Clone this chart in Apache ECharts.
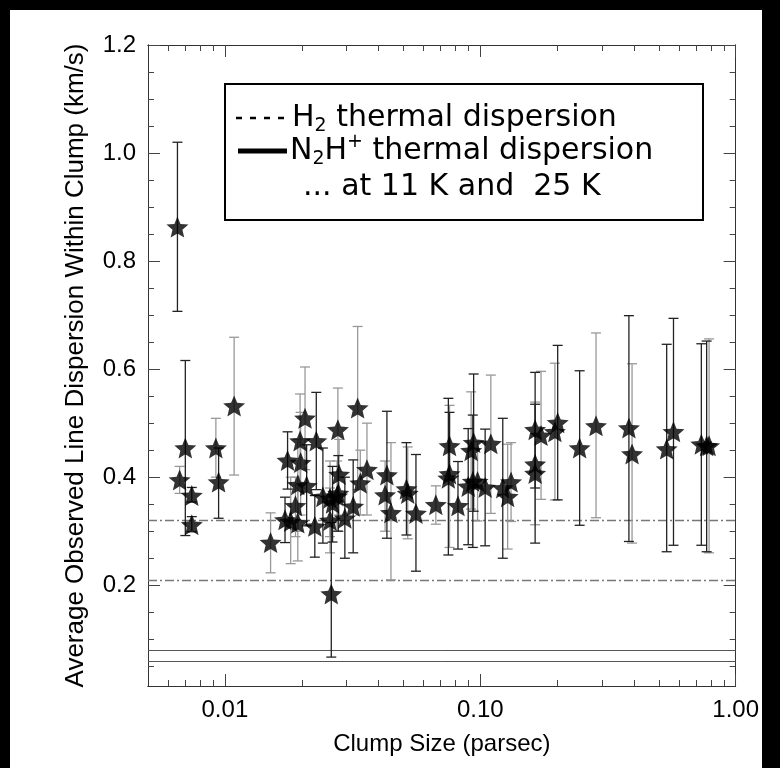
<!DOCTYPE html>
<html>
<head>
<meta charset="utf-8">
<script src="https://cdn.jsdelivr.net/npm/echarts@6/dist/echarts.min.js"></script>
<style>
html,body{margin:0;padding:0;background:#000;width:780px;height:768px;overflow:hidden;}
#main{position:absolute;left:10px;top:10px;width:752px;height:758px;background:#fff;}
</style>
</head>
<body>
<div id="main"></div>
<script>
// clump size (pc), mean dispersion (km/s), error bar low / high -- black bars
var blackSize = [0.00652,0.0070,0.00742,0.00742,0.00945,0.0176,0.0172,0.0209,0.0228,0.0225,0.0242,0.0264,0.0261,0.0278,0.0295,0.0318,0.0431,0.0514,0.0560,0.0758,0.0750,0.0818,0.0897,0.0942,0.0935,0.1045,0.1225,0.164,0.164,0.201,0.245,0.382,0.537,0.571,0.734,0.770];
var blackDisp = [0.863,0.454,0.366,0.312,0.391,0.431,0.321,0.384,0.467,0.309,0.364,0.352,0.184,0.370,0.324,0.346,0.404,0.378,0.333,0.458,0.398,0.347,0.383,0.464,0.392,0.381,0.380,0.488,0.407,0.501,0.454,0.491,0.452,0.484,0.461,0.458];
var blackLow  = [0.707,0.292,0.354,0.299,0.324,0.378,0.279,0.310,0.377,0.252,0.278,0.280,0.067,0.300,0.250,0.260,0.287,0.293,0.226,0.395,0.256,0.267,0.275,0.337,0.270,0.273,0.250,0.380,0.278,0.358,0.311,0.281,0.262,0.274,0.274,0.262];
var blackHigh = [1.020,0.616,0.381,0.327,0.454,0.484,0.363,0.460,0.557,0.366,0.454,0.420,0.316,0.440,0.400,0.432,0.522,0.464,0.442,0.520,0.546,0.429,0.490,0.591,0.515,0.489,0.509,0.594,0.535,0.644,0.597,0.699,0.646,0.694,0.647,0.652];

// grey bars
var greySize = [0.00665,0.00922,0.01087,0.0151,0.0181,0.0189,0.0193,0.0193,0.0198,0.0197,0.0206,0.0258,0.0275,0.0258,0.0280,0.0277,0.0339,0.0360,0.0331,0.0424,0.0447,0.0520,0.0670,0.0758,0.0921,0.0976,0.110,0.128,0.132,0.164,0.173,0.196,0.284,0.393,0.787];
var greyDisp = [0.395,0.454,0.532,0.279,0.318,0.347,0.315,0.386,0.427,0.467,0.509,0.361,0.365,0.320,0.405,0.488,0.389,0.414,0.528,0.367,0.334,0.370,0.349,0.406,0.449,0.392,0.462,0.364,0.391,0.424,0.477,0.484,0.495,0.443,0.458];
var greyLow  = [0.370,0.400,0.404,0.223,0.240,0.290,0.245,0.300,0.330,0.380,0.414,0.290,0.300,0.260,0.330,0.410,0.330,0.330,0.377,0.300,0.210,0.286,0.313,0.270,0.341,0.319,0.333,0.267,0.318,0.312,0.359,0.358,0.325,0.278,0.260];
var greyHigh = [0.420,0.509,0.659,0.334,0.400,0.400,0.385,0.470,0.520,0.554,0.604,0.430,0.430,0.380,0.470,0.565,0.450,0.500,0.679,0.430,0.464,0.456,0.384,0.533,0.558,0.466,0.589,0.461,0.464,0.539,0.596,0.611,0.667,0.610,0.656];

// thermal dispersion at 11 K and 25 K
var h2Thermal = [0.213, 0.321];
var n2hThermal = [0.0561, 0.0846];

var xMajor = [0.01, 0.1, 1];
var xMinor = [0.006,0.007,0.008,0.009,0.02,0.03,0.04,0.05,0.06,0.07,0.08,0.09,0.2,0.3,0.4,0.5,0.6,0.7,0.8,0.9];
var yMajor = [0.2, 0.4, 0.6, 0.8, 1.0, 1.2];
var yMinor = [0.05,0.1,0.15,0.25,0.3,0.35,0.45,0.5,0.55,0.65,0.7,0.75,0.85,0.9,0.95,1.05,1.1,1.15];

function rows(s, d, lo, hi) {
	var out = [];
	for (var i = 0; i < s.length; i++) out.push([s[i], lo[i], hi[i], d[i]]);
	return out;
}

// 5 point star
function starPath() {
	var pts = [];
	for (var i = 0; i < 10; i++) {
		var r = i % 2 ? 0.45 : 1;
		var a = -Math.PI / 2 + i * Math.PI / 5;
		pts.push((r * Math.cos(a)).toFixed(3) + ' ' + (r * Math.sin(a)).toFixed(3));
	}
	return 'path://M' + pts.join(' L') + ' Z';
}

function errorBar(params, api) {
	var x = api.value(0);
	var pLo = api.coord([x, api.value(1)]);
	var pHi = api.coord([x, api.value(2)]);
	var c = 5;
	var st = { stroke: api.visual('color'), lineWidth: 1.3 };
	return {
		type: 'group',
		children: [
			{ type: 'line', shape: { x1: pLo[0], y1: pLo[1], x2: pHi[0], y2: pHi[1] }, style: st },
			{ type: 'line', shape: { x1: pLo[0] - c, y1: pLo[1], x2: pLo[0] + c, y2: pLo[1] }, style: st },
			{ type: 'line', shape: { x1: pHi[0] - c, y1: pHi[1], x2: pHi[0] + c, y2: pHi[1] }, style: st }
		]
	};
}

var tickFont = { fontFamily: 'Liberation Sans', fontSize: 24, color: '#000' };

function xAx(pos, ticks, len, labels) {
	return {
		type: 'log', logBase: 10, min: 0.005, max: 1, position: pos,
		axisLine: { show: true, onZero: false, lineStyle: { color: '#333', width: 1 } },
		axisTick: { show: true, inside: true, length: len, customValues: ticks, lineStyle: { color: '#444', width: 1 } },
		axisLabel: labels ? Object.assign({ show: true, margin: 12, customValues: ticks, formatter: function(v) { return v.toFixed(2); } }, tickFont) : { show: false },
		splitLine: { show: false }, minorTick: { show: false }
	};
}
function yAx(pos, ticks, len, labels) {
	return {
		type: 'value', min: 0.0135, max: 1.2, position: pos,
		axisLine: { show: true, onZero: false, lineStyle: { color: '#333', width: 1 } },
		axisTick: { show: true, inside: true, length: len, customValues: ticks, lineStyle: { color: '#444', width: 1 } },
		axisLabel: labels ? Object.assign({ show: true, margin: 12, customValues: ticks, formatter: function(v) { return v.toFixed(1); } }, tickFont) : { show: false },
		splitLine: { show: false }
	};
}

var xa = [xAx('bottom', xMajor, 12, true), xAx('bottom', xMinor, 6, false), xAx('top', xMajor, 12, false), xAx('top', xMinor, 6, false)];
xa[0].name = 'Clump Size (parsec)';
xa[0].nameLocation = 'middle';
xa[0].nameGap = 46;
xa[0].nameTextStyle = { fontFamily: 'Liberation Sans', fontSize: 24, color: '#000' };
var ya = [yAx('left', yMajor, 12, true), yAx('left', yMinor, 6, false), yAx('right', yMajor, 12, false), yAx('right', yMinor, 6, false)];
ya[0].name = 'Average Observed Line Dispersion Within Clump (km/s)';
ya[0].nameLocation = 'middle';
ya[0].nameGap = 59;
ya[0].nameTextStyle = { fontFamily: 'Liberation Sans', fontSize: 26, color: '#000' };

var refLines = [];
for (var i = 0; i < h2Thermal.length; i++) refLines.push({ yAxis: h2Thermal[i], lineStyle: { color: '#777', width: 1.3, type: [9, 3, 2, 3] } });
for (var j = 0; j < n2hThermal.length; j++) refLines.push({ yAxis: n2hThermal[j], lineStyle: { color: '#555', width: 1, type: 'solid' } });

var legFont = 'DejaVu Sans';
var legMain = { fontFamily: legFont, fontSize: 30, color: '#000', lineHeight: 36 };
var legSub = { fontFamily: legFont, fontSize: 19, color: '#000', verticalAlign: 'bottom', lineHeight: 36, padding: [11, 0, 0, 0] };
var legSup = { fontFamily: legFont, fontSize: 19, color: '#000', verticalAlign: 'top', lineHeight: 36, padding: [0, 0, 12, 0] };

var chart = echarts.init(document.getElementById('main'), null, { renderer: 'canvas' });
chart.setOption({
	animation: false,
	backgroundColor: '#fff',
	grid: { left: 138, top: 35, right: 20, bottom: 82 },
	xAxis: xa,
	yAxis: ya,
	series: [
		{
			type: 'custom', renderItem: errorBar, xAxisIndex: 0, yAxisIndex: 0,
			itemStyle: { color: '#999' }, encode: { x: 0, y: [1, 2] },
			data: rows(greySize, greyDisp, greyLow, greyHigh), z: 3
		},
		{
			type: 'custom', renderItem: errorBar, xAxisIndex: 0, yAxisIndex: 0,
			itemStyle: { color: '#222' }, encode: { x: 0, y: [1, 2] },
			data: rows(blackSize, blackDisp, blackLow, blackHigh), z: 3
		},
		{
			type: 'scatter', xAxisIndex: 0, yAxisIndex: 0, symbol: starPath(), symbolSize: [22, 21],
			itemStyle: { color: '#000' }, encode: { x: 0, y: 3 },
			data: rows(greySize, greyDisp, greyLow, greyHigh).concat(rows(blackSize, blackDisp, blackLow, blackHigh)), z: 4,
			markLine: { silent: true, symbol: 'none', label: { show: false }, data: refLines, z: 2 }
		}
	],
	graphic: [
		{ type: 'rect', left: 214, top: 73, shape: { width: 478, height: 136 }, style: { fill: '#fff', stroke: '#000', lineWidth: 2 }, z: 10 },
		{ type: 'line', shape: { x1: 226, y1: 108, x2: 276, y2: 108 }, style: { stroke: '#000', lineWidth: 2.5, lineDash: [6, 8] }, z: 11 },
		{ type: 'line', shape: { x1: 228, y1: 141, x2: 277, y2: 141 }, style: { stroke: '#000', lineWidth: 5 }, z: 11 },
		{
			type: 'text', x: 282, y: 108, z: 11,
			style: { text: '{m|H}{s|2}{m| thermal dispersion}', verticalAlign: 'middle', rich: { m: legMain, s: legSub } }
		},
		{
			type: 'text', x: 280, y: 141, z: 11,
			style: { text: '{m|N}{s|2}{m|H}{p|+}{m| thermal dispersion}', verticalAlign: 'middle', rich: { m: legMain, s: legSub, p: legSup } }
		},
		{
			type: 'text', x: 293, y: 177, z: 11,
			style: { text: '... at 11 K and  25 K', verticalAlign: 'middle', fontFamily: legFont, fontSize: 30, fill: '#000' }
		}
	]
});
</script>
</body>
</html>
